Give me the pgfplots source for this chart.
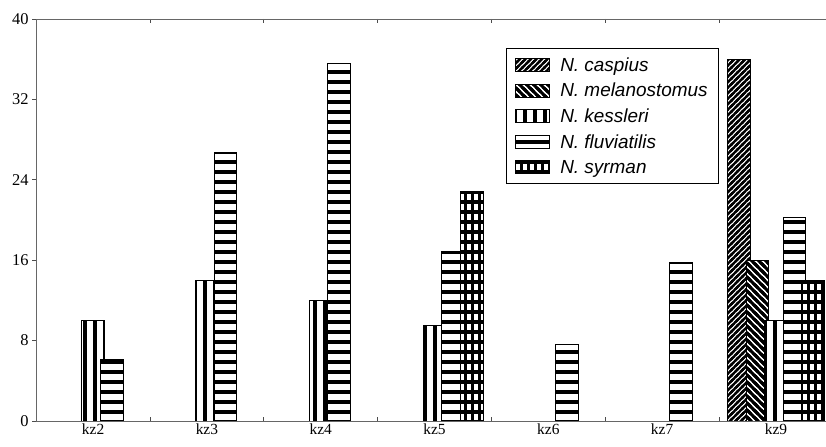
\documentclass[border=0pt]{standalone}
\usepackage{fontspec}
\setmainfont{Liberation Serif}
\newfontfamily\arial{Liberation Sans}
\usepackage{graphicx}
\usepackage{pgfplots}
\pgfplotsset{compat=1.18}
\usetikzlibrary{patterns}
% north-east diagonal lines
\pgfdeclarepatternformonly{diagNE}{\pgfqpoint{-1bp}{-1bp}}{\pgfqpoint{6.5bp}{6.5bp}}{\pgfqpoint{5.5bp}{5.5bp}}{%
  \pgfsetlinewidth{2.2bp}%
  \pgfpathmoveto{\pgfqpoint{-2bp}{-13bp}}\pgfpathlineto{\pgfqpoint{9bp}{-2bp}}%
  \pgfpathmoveto{\pgfqpoint{-2bp}{-7.5bp}}\pgfpathlineto{\pgfqpoint{9bp}{3.5bp}}%
  \pgfpathmoveto{\pgfqpoint{-2bp}{-2bp}}\pgfpathlineto{\pgfqpoint{9bp}{9bp}}%
  \pgfpathmoveto{\pgfqpoint{-2bp}{3.5bp}}\pgfpathlineto{\pgfqpoint{9bp}{14.5bp}}%
  \pgfpathmoveto{\pgfqpoint{-2bp}{9bp}}\pgfpathlineto{\pgfqpoint{9bp}{20bp}}%
  \pgfusepath{stroke}}
% north-west diagonal lines
\pgfdeclarepatternformonly{diagNW}{\pgfqpoint{-1bp}{-1bp}}{\pgfqpoint{8bp}{8bp}}{\pgfqpoint{7bp}{7bp}}{%
  \pgfsetlinewidth{2.9bp}%
  \pgfpathmoveto{\pgfqpoint{-2bp}{-5bp}}\pgfpathlineto{\pgfqpoint{11bp}{-18bp}}%
  \pgfpathmoveto{\pgfqpoint{-2bp}{2bp}}\pgfpathlineto{\pgfqpoint{11bp}{-11bp}}%
  \pgfpathmoveto{\pgfqpoint{-2bp}{9bp}}\pgfpathlineto{\pgfqpoint{11bp}{-4bp}}%
  \pgfpathmoveto{\pgfqpoint{-2bp}{16bp}}\pgfpathlineto{\pgfqpoint{11bp}{3bp}}%
  \pgfpathmoveto{\pgfqpoint{-2bp}{23bp}}\pgfpathlineto{\pgfqpoint{11bp}{10bp}}%
  \pgfusepath{stroke}}
% vertical lines
\pgfdeclarepatternformonly{vstripes}{\pgfqpoint{-1bp}{-1bp}}{\pgfqpoint{11bp}{11bp}}{\pgfqpoint{10bp}{10bp}}{%
  \pgfsetlinewidth{3.6bp}%
  \pgfpathmoveto{\pgfqpoint{5bp}{-2bp}}\pgfpathlineto{\pgfqpoint{5bp}{12bp}}%
  \pgfusepath{stroke}}
% horizontal lines
\pgfdeclarepatternformonly{hstripes}{\pgfqpoint{-1bp}{-1bp}}{\pgfqpoint{11bp}{11bp}}{\pgfqpoint{10bp}{10bp}}{%
  \pgfsetlinewidth{3.6bp}%
  \pgfpathmoveto{\pgfqpoint{-2bp}{5bp}}\pgfpathlineto{\pgfqpoint{12bp}{5bp}}%
  \pgfusepath{stroke}}
% grid
\pgfdeclarepatternformonly{gridstripes}{\pgfqpoint{-1bp}{-1bp}}{\pgfqpoint{8bp}{11bp}}{\pgfqpoint{7bp}{10bp}}{%
  \pgfsetlinewidth{3.6bp}%
  \pgfpathmoveto{\pgfqpoint{-2bp}{5bp}}\pgfpathlineto{\pgfqpoint{9bp}{5bp}}%
  \pgfusepath{stroke}%
  \pgfsetlinewidth{2.6bp}%
  \pgfpathmoveto{\pgfqpoint{3.5bp}{-2bp}}\pgfpathlineto{\pgfqpoint{3.5bp}{12bp}}%
  \pgfusepath{stroke}}
\pgfplotsset{
  mybar/.style={ybar, bar width=0.2, draw=black, line width=0.9bp, fill=white,
    legend image code/.code={\draw[##1] (0bp,-6.5bp) rectangle (34bp,6.5bp);}},
}
\begin{document}
\begin{tikzpicture}
\path[use as bounding box] (-36.2bp,-26bp) rectangle (789.8bp,421bp);
\begin{axis}[
  at={(0,0)}, anchor=south west,
  scale only axis, width=789.8bp, height=402bp,
  xmin=-0.5, xmax=6.44, ymin=0, ymax=40,
  axis x line*=box, axis y line*=left,
  axis line style={black!60, line width=0.9bp},
  every tick/.style={black!70, line width=0.8bp},
  ytick={0,8,16,24,32,40},
  xtick={0,1,2,3,4,5,6},
  xticklabels={kz2,kz3,kz4,kz5,kz6,kz7,kz9},
  minor xtick={0.5,1.5,2.5,3.5,4.5,5.5},
  major x tick style={draw=none},
  xtick pos=both, ytick pos=left,
  xtick align=inside, ytick align=outside,
  major tick length=4bp, minor tick length=4bp,
  yticklabel style={font=\fontsize{16.5}{19}\selectfont},
  xticklabel style={font=\fontsize{15.5}{18}\selectfont, yshift=1bp},
  /pgf/number format/assume math mode=true,
  legend style={at={(0.8645,0.928)}, anchor=north east, draw=black, line width=0.8bp,
    font=\arial\itshape\fontsize{19}{22}\selectfont, cells={anchor=west},
    row sep=6.5bp, inner xsep=9bp, inner ysep=7bp,
    /tikz/every odd column/.append style={column sep=8bp}},
]
\addplot[mybar, bar shift=-0.326, postaction={pattern=diagNE}]
  coordinates {(6,36)};
\addlegendentry{N. caspius}
\addplot[mybar, bar shift=-0.163, postaction={pattern=diagNW}]
  coordinates {(6,16)};
\addlegendentry{N. melanostomus}
\addplot[mybar, bar shift=0, postaction={pattern=vstripes}]
  coordinates {(0,10) (1,14) (2,12) (3,9.5) (6,10)};
\addlegendentry{N. kessleri}
\addplot[mybar, bar shift=0.163, postaction={pattern=hstripes}]
  coordinates {(0,6.1) (1,26.7) (2,35.6) (3,16.9) (4,7.6) (5,15.8) (6,20.3)};
\addlegendentry{N. fluviatilis}
\addplot[mybar, bar shift=0.326, postaction={pattern=gridstripes}]
  coordinates {(3,22.8) (6,14)};
\addlegendentry{N. syrman}
\end{axis}
\end{tikzpicture}
\end{document}
